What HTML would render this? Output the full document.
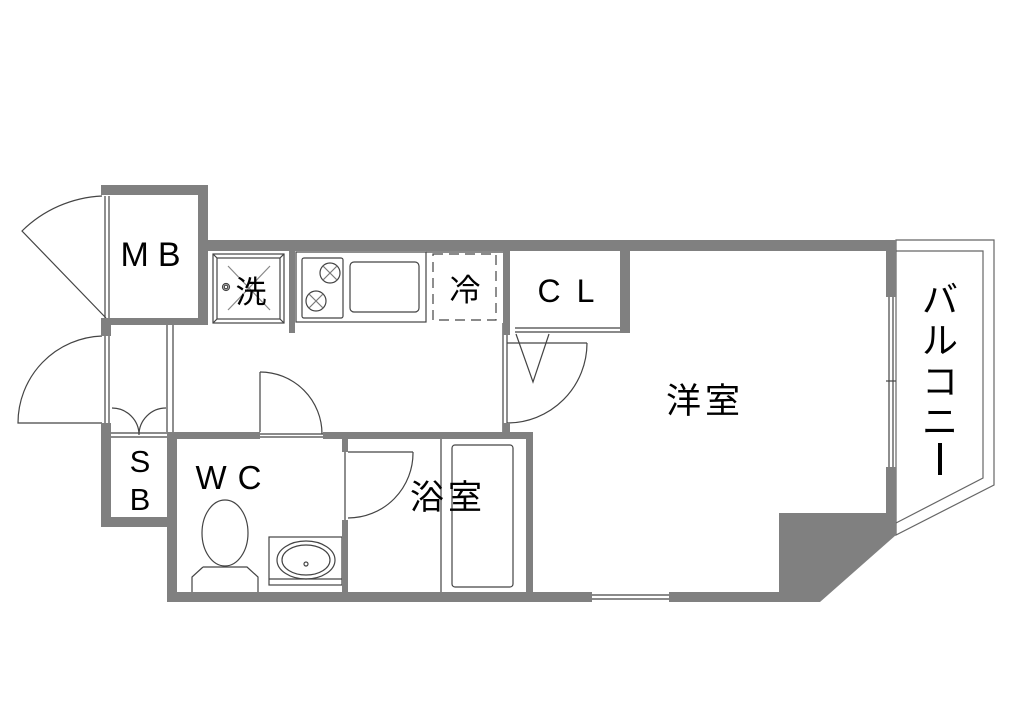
<!DOCTYPE html>
<html><head><meta charset="utf-8"><style>
html,body{margin:0;padding:0;background:#fff;}
svg{display:block;}
text{font-family:"Liberation Sans","Noto Sans CJK JP",sans-serif;fill:#000;}
</style></head><body>
<svg width="1024" height="724" viewBox="0 0 1024 724" xmlns="http://www.w3.org/2000/svg">
<rect width="1024" height="724" fill="#fff"/>
<g fill="none" stroke="#444" stroke-width="1.2">
<polygon points="896,240 994,240 994,485 896,535" stroke="#666"/>
<polyline points="896,251 983,251 983,478 896,523" stroke="#666"/>
<line x1="889" y1="297" x2="889" y2="467"/><line x1="893" y1="297" x2="893" y2="467"/>
<line x1="886" y1="381" x2="896" y2="381"/>
<line x1="592" y1="595" x2="669" y2="595"/><line x1="592" y1="599" x2="669" y2="599"/>
<line x1="105" y1="335" x2="105" y2="423"/><line x1="109" y1="335" x2="109" y2="423"/>
<path d="M102,336 A87,87 0 0 0 18,423 L102,423"/>
<line x1="105" y1="196" x2="105" y2="318"/><line x1="109" y1="196" x2="109" y2="318"/>
<path d="M102,196 A122,122 0 0 0 22,231 L106,318"/>
<line x1="173" y1="325" x2="173" y2="432"/>
<line x1="167" y1="325" x2="167" y2="432"/>
<line x1="111" y1="433" x2="167" y2="433"/><line x1="111" y1="437" x2="167" y2="437"/>
<path d="M112,408 A27,27 0 0 1 139,435 M166,408 A27,27 0 0 0 139,435"/>
<rect x="213" y="254" width="71" height="69"/>
<rect x="217" y="258" width="63" height="61"/>
<line x1="213" y1="254" x2="217" y2="258"/><line x1="284" y1="254" x2="280" y2="258"/>
<line x1="213" y1="323" x2="217" y2="319"/><line x1="284" y1="323" x2="280" y2="319"/>
<line x1="228" y1="266" x2="270" y2="310" stroke="#888"/><line x1="270" y1="266" x2="228" y2="310" stroke="#888"/>
<circle cx="226" cy="287" r="3.5"/><circle cx="226" cy="287" r="1.8"/>
<rect x="296" y="252" width="130" height="70"/>
<line x1="426" y1="252" x2="503" y2="252"/>
<rect x="302" y="258" width="41" height="60" rx="2"/>
<circle cx="330" cy="273" r="10"/><circle cx="316" cy="301" r="10"/>
<path d="M323,266 l14,14 M337,266 l-14,14 M309,294 l14,14 M323,294 l-14,14" stroke="#777"/>
<rect x="350" y="262" width="69" height="50" rx="4"/>
<rect x="433" y="254" width="63" height="66" stroke-dasharray="10,6"/>
<line x1="503" y1="323" x2="503" y2="432"/>
<line x1="507" y1="335" x2="507" y2="423"/>
<line x1="515" y1="328" x2="620" y2="328"/><line x1="515" y1="332" x2="620" y2="332"/>
<polyline points="516,334 533,382 549,334"/>
<path d="M587,343 A80,80 0 0 1 507,423"/><line x1="507" y1="343" x2="587" y2="343"/>
<line x1="260" y1="372" x2="260" y2="432"/>
<path d="M260,372 A62,62 0 0 1 322,434"/>
<line x1="260" y1="434" x2="323" y2="434"/><line x1="260" y1="437" x2="323" y2="437"/>
<line x1="345" y1="452" x2="345" y2="520"/>
<line x1="348" y1="452" x2="413" y2="452"/>
<path d="M413,452 A65,65 0 0 1 348,518"/>
<line x1="441" y1="439" x2="441" y2="592"/>
<rect x="452" y="445" width="61" height="142" rx="3"/>
<ellipse cx="225" cy="533" rx="23" ry="33"/>
<path d="M203,567 L247,567 L258,577 L258,592 M192,592 L192,577 L203,567"/>
<rect x="269" y="537" width="73" height="48"/>
<line x1="269" y1="579" x2="342" y2="579"/>
<ellipse cx="306" cy="560" rx="29" ry="19"/>
<ellipse cx="306" cy="560" rx="24" ry="15"/>
<circle cx="306" cy="564" r="2"/>
</g>
<g fill="#808080">
<rect x="101" y="185" width="107" height="10"/>
<rect x="198" y="185" width="10" height="140"/>
<rect x="101" y="185" width="10" height="10"/>
<rect x="101" y="318" width="107" height="7"/>
<rect x="101" y="318" width="10" height="18"/>
<rect x="198" y="240" width="698" height="11"/>
<rect x="886" y="240" width="10" height="57"/>
<rect x="886" y="467" width="10" height="46"/>
<polygon points="779,513 896,513 896,535 820,602 779,602"/>
<rect x="669" y="592" width="151" height="10"/>
<rect x="167" y="592" width="425" height="10"/>
<rect x="101" y="423" width="10" height="104"/>
<rect x="101" y="517" width="76" height="10"/>
<rect x="167" y="432" width="10" height="170"/>
<rect x="167" y="432" width="93" height="7"/>
<rect x="323" y="432" width="210" height="7"/>
<rect x="342" y="432" width="6" height="20"/>
<rect x="342" y="520" width="6" height="72"/>
<rect x="526" y="432" width="7" height="170"/>
<rect x="289" y="251" width="6" height="82"/>
<rect x="503" y="251" width="7" height="84"/>
<rect x="503" y="423" width="7" height="12"/>
<rect x="620" y="251" width="10" height="82"/>
</g>
<text x="155" y="266" font-size="34" text-anchor="middle" letter-spacing="9">MB</text>
<text x="251" y="303" font-size="31" text-anchor="middle">洗</text>
<text x="465" y="301" font-size="31" text-anchor="middle">冷</text>
<text x="574" y="302" font-size="32" text-anchor="middle" letter-spacing="16">CL</text>
<text x="705" y="413" font-size="35" text-anchor="middle" letter-spacing="4">洋室</text>
<text x="448" y="509" font-size="34" text-anchor="middle" letter-spacing="4">浴室</text>
<text x="234" y="489" font-size="33" text-anchor="middle" letter-spacing="11">WC</text>
<text x="140" y="472" font-size="31" text-anchor="middle">S</text>
<text x="140" y="510" font-size="31" text-anchor="middle">B</text>
<g font-size="36" text-anchor="middle">
<text x="940" y="312">バ</text>
<text x="940" y="353">ル</text>
<text x="940" y="394">コ</text>
<text x="940" y="434">ニ</text>
</g>
<rect x="938" y="443" width="4" height="32" fill="#000"/>
</svg>
</body></html>
